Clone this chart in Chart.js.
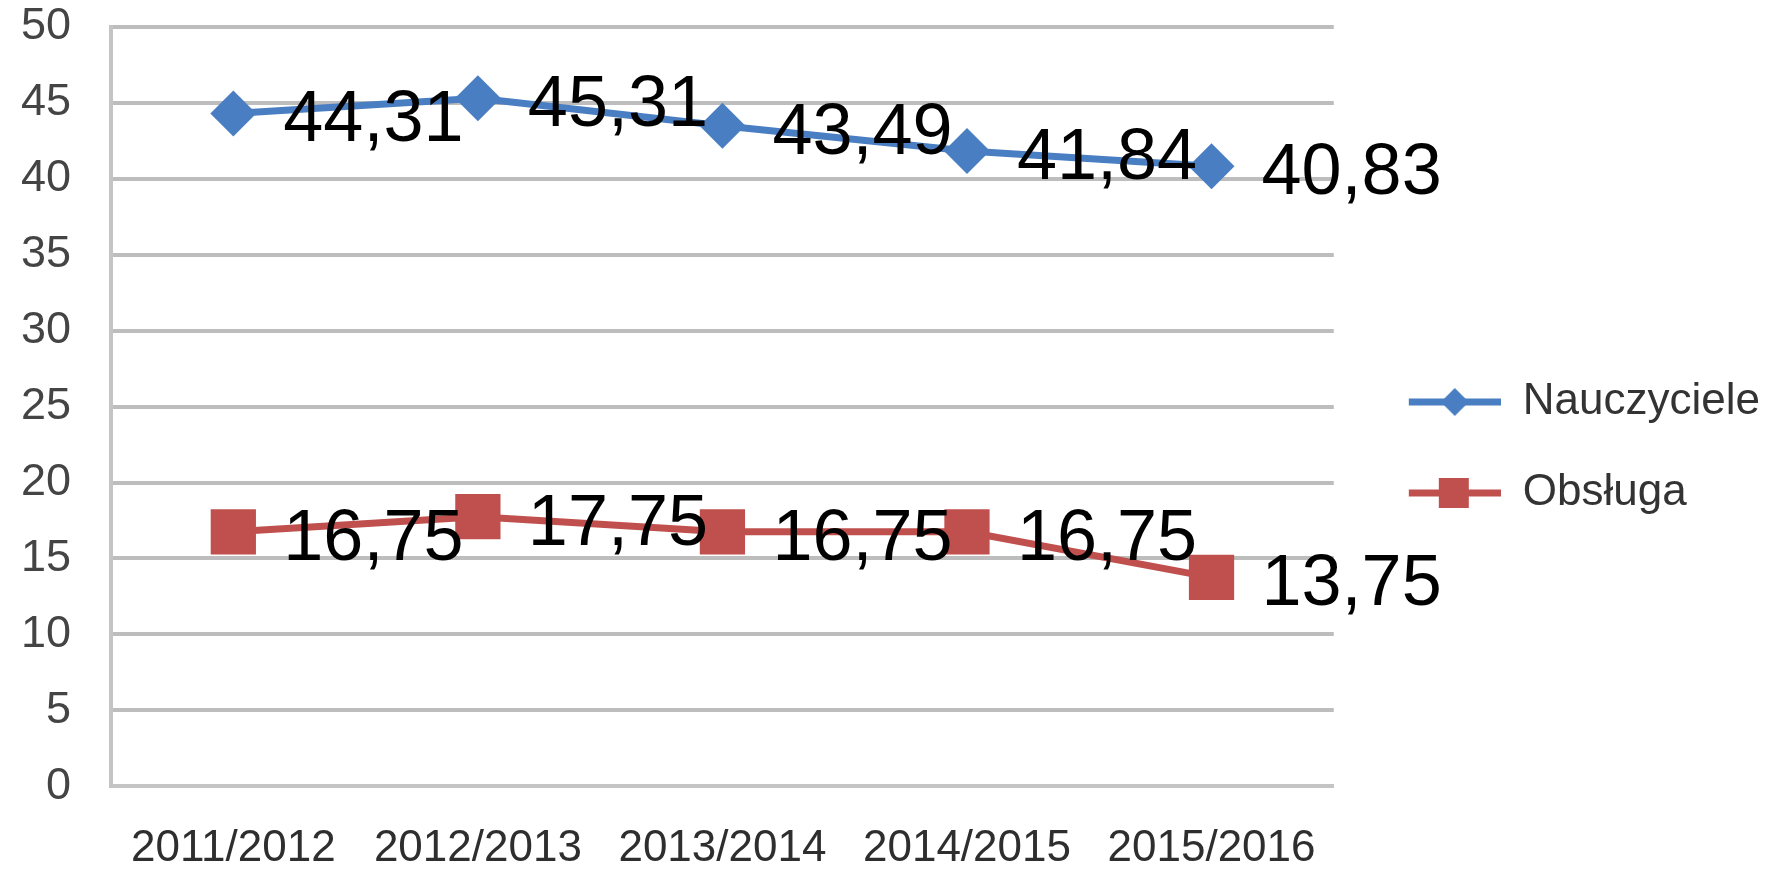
<!DOCTYPE html>
<html>
<head>
<meta charset="utf-8">
<script src="https://cdn.jsdelivr.net/npm/chart.js@4/dist/chart.umd.min.js"></script>
<style>
  html, body { margin: 0; padding: 0; background: #fff; }
  #wrap { width: 1787px; height: 875px; }
</style>
</head>
<body>
<div id="wrap"><canvas id="chart" width="1787" height="875"></canvas></div>
<script>
const years = ['2011/2012', '2012/2013', '2013/2014', '2014/2015', '2015/2016'];
const teachers = [44.31, 45.31, 43.49, 41.84, 40.83];
const staff = [16.75, 17.75, 16.75, 16.75, 13.75];
const seriesNames = ['Nauczyciele', 'Obsługa'];

const blue = '#4A7EC2';
const red = '#C0504D';
const font = "'Liberation Sans', Arial, sans-serif";

// legend icon: line with marker, like the spreadsheet legend
function legendIcon(color, shape) {
    const c = document.createElement('canvas');
    c.width = 120;
    c.height = 50;
    const g = c.getContext('2d');
    g.strokeStyle = color;
    g.lineWidth = 7;
    g.beginPath();
    g.moveTo(28, 25);
    g.lineTo(120, 25);
    g.stroke();
    g.fillStyle = color;
    if (shape === 'diamond') {
        g.beginPath();
        g.moveTo(74, 11);
        g.lineTo(88, 25);
        g.lineTo(74, 39);
        g.lineTo(60, 25);
        g.closePath();
        g.fill();
    } else {
        g.fillRect(58, 10, 30, 30);
    }
    return c;
}

const icons = [legendIcon(blue, 'diamond'), legendIcon(red, 'square')];

const valueLabels = {
    id: 'valueLabels',
    afterDatasetsDraw(chart) {
        const ctx = chart.ctx;
        ctx.save();
        ctx.font = '72px ' + font;
        ctx.fillStyle = '#000';
        ctx.textAlign = 'left';
        ctx.textBaseline = 'middle';
        chart.data.datasets.forEach((ds, di) => {
            const meta = chart.getDatasetMeta(di);
            meta.data.forEach((pt, i) => {
                const txt = ds.data[i].toFixed(2).replace('.', ',');
                ctx.fillText(txt, pt.x + 50, pt.y + 8);
            });
        });
        ctx.restore();
    }
};

new Chart(document.getElementById('chart'), {
    type: 'line',
    data: {
        labels: years,
        datasets: [{
            label: seriesNames[0],
            data: teachers,
            borderColor: blue,
            backgroundColor: blue,
            borderWidth: 7,
            pointStyle: 'rectRot',
            pointRadius: 23,
            pointHoverRadius: 23,
            pointBorderWidth: 0
        }, {
            label: seriesNames[1],
            data: staff,
            borderColor: red,
            backgroundColor: red,
            borderWidth: 7,
            pointStyle: 'rect',
            pointRadius: 32,
            pointHoverRadius: 32,
            pointBorderWidth: 0
        }]
    },
    options: {
        responsive: false,
        animation: false,
        layout: {
            autoPadding: false,
            padding: { left: 21, right: 17, top: 0, bottom: 0 }
        },
        plugins: {
            tooltip: { enabled: false },
            legend: {
                position: 'right',
                // blank title only pushes the items down a little
                title: {
                    display: true,
                    text: ' ',
                    font: { size: 10 },
                    padding: { top: 4, bottom: 4 }
                },
                labels: {
                    usePointStyle: true,
                    pointStyleWidth: 120,
                    padding: 47,
                    color: '#333',
                    font: { family: font, size: 44 },
                    generateLabels: (chart) =>
                        Chart.defaults.plugins.legend.labels.generateLabels(chart)
                            .map((l, i) => ({ ...l, pointStyle: icons[i] }))
                }
            }
        },
        scales: {
            x: {
                offset: true,
                grid: {
                    display: true,
                    color: 'transparent',
                    tickColor: 'transparent',
                    tickLength: 36
                },
                border: { display: true, color: '#C4C4C4', width: 4 },
                ticks: {
                    padding: 0,
                    color: '#2E2E2E',
                    font: { family: font, size: 44 },
                    maxRotation: 0
                }
            },
            y: {
                min: 0,
                max: 50,
                grid: {
                    color: '#BDBDBD',
                    lineWidth: 4,
                    tickColor: 'transparent',
                    tickLength: 40
                },
                border: { display: true, color: '#C4C4C4', width: 4 },
                ticks: {
                    stepSize: 5,
                    padding: 0,
                    color: '#444',
                    font: { family: font, size: 45 }
                }
            }
        }
    },
    plugins: [valueLabels]
});
</script>
</body>
</html>
